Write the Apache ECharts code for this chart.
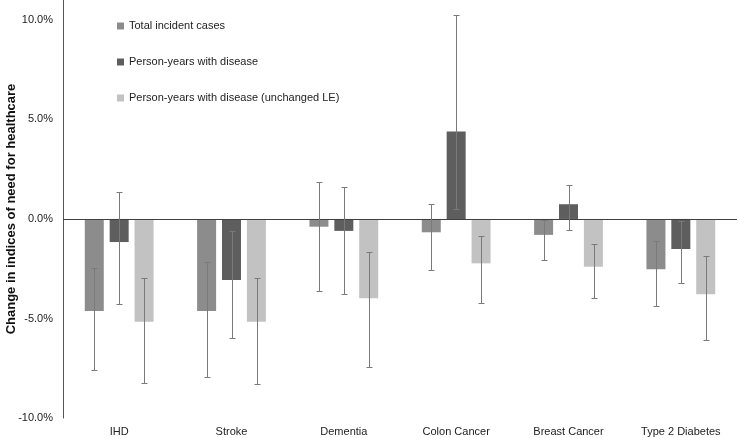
<!DOCTYPE html>
<html>
<head>
<meta charset="utf-8">
<script src="https://cdn.jsdelivr.net/npm/echarts@6/dist/echarts.min.js"></script>
<style>html,body{margin:0;padding:0;background:#fff;}#c{width:738px;height:438px;}</style>
</head>
<body>
<div id="c"></div>
<script>
const categories = ['IHD', 'Stroke', 'Dementia', 'Colon Cancer', 'Breast Cancer', 'Type 2 Diabetes'];
const seriesNames = ['Total incident cases', 'Person-years with disease', 'Person-years with disease (unchanged LE)'];
const incident = [-4.62, -4.62, -0.39, -0.67, -0.80, -2.53];
const incidentLow = [-7.59, -7.92, -3.60, -2.56, -2.06, -4.39];
const incidentHigh = [-2.48, -2.14, 1.87, 0.74, -0.05, -1.12];
const personYears = [-1.16, -3.07, -0.60, 4.39, 0.74, -1.51];
const personYearsLow = [-4.26, -6.00, -3.79, 0.50, -0.55, -3.23];
const personYearsHigh = [1.35, -0.60, 1.62, 10.27, 1.69, -0.10];
const unchanged = [-5.16, -5.16, -3.99, -2.23, -2.40, -3.78];
const unchangedLow = [-8.26, -8.31, -7.45, -4.21, -3.99, -6.09];
const unchangedHigh = [-2.95, -2.98, -1.67, -0.87, -1.27, -1.86];
const yTicks = [-10, -5, 0, 5, 10];

const colors = ['#8c8c8c', '#5e5e5e', '#c2c2c2'];
const FONT = 'Liberation Sans, Arial, sans-serif';

function errSeries(low, high, offset) {
  return {
    type: 'custom',
    silent: true,
    z: 5,
    data: categories.map((c, i) => [i, low[i], high[i]]),
    encode: { x: 0, y: [1, 2] },
    renderItem: function (params, api) {
      const i = api.value(0);
      const pH = api.coord([i, api.value(2)]);
      const pL = api.coord([i, api.value(1)]);
      const x = Math.round(pH[0] + offset) + 0.5;
      const yH = Math.round(pH[1]) + 0.5, yL = Math.round(pL[1]) + 0.5;
      const st = { stroke: '#7a7a7a', lineWidth: 1 };
      return {
        type: 'group',
        children: [
          { type: 'line', shape: { x1: x, y1: yH, x2: x, y2: yL }, style: st },
          { type: 'line', shape: { x1: x - 3, y1: yH, x2: x + 3, y2: yH }, style: st },
          { type: 'line', shape: { x1: x - 3, y1: yL, x2: x + 3, y2: yL }, style: st }
        ]
      };
    }
  };
}

const chart = echarts.init(document.getElementById('c'), null, { renderer: 'canvas' });
chart.setOption({
  animation: false,
  color: colors,
  textStyle: { fontFamily: FONT },
  grid: { left: 63, right: 1, top: 0, bottom: 20, containLabel: false, outerBoundsMode: 'none' },
  legend: {
    data: seriesNames,
    orient: 'vertical',
    left: 112,
    top: 14,
    itemWidth: 7,
    itemHeight: 7,
    itemGap: 22,
    icon: 'rect',
    textStyle: { fontFamily: FONT, fontSize: 11, color: '#222', lineHeight: 14 }
  },
  xAxis: {
    type: 'category',
    data: categories,
    axisLine: { show: false, onZero: false },
    axisTick: { show: false },
    axisLabel: { color: '#222', fontSize: 11, fontFamily: FONT, margin: 8, interval: 0 },
    splitLine: { show: false }
  },
  yAxis: {
    type: 'value',
    min: -10,
    max: 11,
    interval: 5,
    name: 'Change in indices of need for healthcare',
    nameLocation: 'middle',
    nameGap: 45,
    nameMoveOverlap: false,
    nameTextStyle: { fontWeight: 'bold', fontSize: 13, color: '#111', fontFamily: FONT },
    axisLine: { show: true, lineStyle: { color: '#555', width: 1 } },
    axisTick: { show: false },
    splitLine: { show: false },
    axisLabel: {
      color: '#222', fontSize: 11, fontFamily: FONT, margin: 10,
      formatter: v => (yTicks.indexOf(v) >= 0 ? v.toFixed(1) + '%' : '')
    }
  },
  series: [
    {
      name: seriesNames[0], type: 'bar', data: incident, barWidth: 19, barGap: '31%',
      itemStyle: { color: colors[0] },
      markLine: {
        silent: true, symbol: 'none', label: { show: false },
        lineStyle: { color: '#404040', width: 1, type: 'solid' },
        data: [{ yAxis: 0 }]
      }
    },
    { name: seriesNames[1], type: 'bar', data: personYears, barWidth: 19, barGap: '31%', itemStyle: { color: colors[1] } },
    { name: seriesNames[2], type: 'bar', data: unchanged, barWidth: 19, barGap: '31%', itemStyle: { color: colors[2] } },
    errSeries(incidentLow, incidentHigh, -25),
    errSeries(personYearsLow, personYearsHigh, 0),
    errSeries(unchangedLow, unchangedHigh, 25)
  ]
});
</script>
</body>
</html>
